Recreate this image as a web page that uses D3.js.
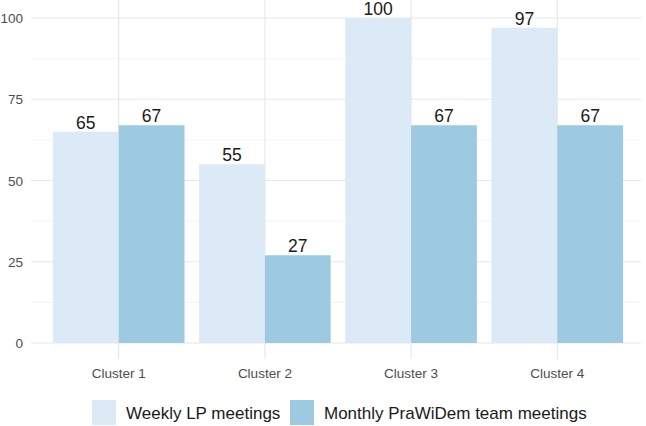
<!DOCTYPE html>
<html><head><meta charset="utf-8">
<script src="https://cdn.jsdelivr.net/npm/d3@7"></script>
<style>body{margin:0;background:#fff}svg{display:block}</style>
</head><body>
<script>
const categories = ["Cluster 1","Cluster 2","Cluster 3","Cluster 4"];
const seriesNames = ["Weekly LP meetings","Monthly PraWiDem team meetings"];
const weekly = [65,55,100,97];
const monthly = [67,27,67,67];
const yTicks = [0,25,50,75,100];
const colors = ["#dce9f6","#9ecae1"];

(function(){
const W=646,H=426;
const svg=d3.select("body").append("svg").attr("width",W).attr("height",H);
const pLeft=31,pRight=645,pTop=18,pBottom=343;
const x=d3.scalePoint().domain(categories).range([0,categories.length-1]);
const step=(pRight-pLeft)/(categories.length-1+1.2);
const cx=c=>pLeft+step*(0.6+x(c));
const y=d3.scaleLinear().domain([0,100]).range([pBottom,pTop]);
const font="Liberation Sans, Arial, sans-serif";

const g=svg.append("g");
const minor=[12.5,37.5,62.5,87.5];
g.selectAll(".mn").data(minor).enter().append("line")
 .attr("x1",pLeft).attr("x2",641).attr("y1",d=>y(d)).attr("y2",d=>y(d))
 .attr("stroke","#f0f0f0").attr("stroke-width",0.8);
g.selectAll(".mj").data(yTicks).enter().append("line")
 .attr("x1",pLeft).attr("x2",641).attr("y1",d=>y(d)).attr("y2",d=>y(d))
 .attr("stroke","#e8e8e8").attr("stroke-width",1.2);
g.selectAll(".vx").data(categories).enter().append("line")
 .attr("x1",d=>cx(d)).attr("x2",d=>cx(d)).attr("y1",0).attr("y2",359)
 .attr("stroke","#e8e8e8").attr("stroke-width",1.2);

const bw=step*0.45;
const data=[];
categories.forEach((c,i)=>{
  data.push({c,s:0,v:weekly[i]});
  data.push({c,s:1,v:monthly[i]});
});
svg.selectAll("rect.bar").data(data).enter().append("rect")
 .attr("x",d=>cx(d.c)+(d.s===0?-bw:0)).attr("width",bw)
 .attr("y",d=>y(d.v)).attr("height",d=>y(0)-y(d.v))
 .attr("fill",d=>colors[d.s]);
svg.selectAll("text.val").data(data).enter().append("text")
 .attr("x",d=>cx(d.c)+(d.s===0?-bw/2:bw/2)).attr("y",d=>y(d.v)-3)
 .attr("text-anchor","middle").attr("font-family",font).attr("font-size",17.5)
 .attr("fill","#1a1a1a").text(d=>d.v);

svg.selectAll("text.yt").data(yTicks).enter().append("text")
 .attr("x",23).attr("y",d=>y(d)+5).attr("text-anchor","end")
 .attr("font-family",font).attr("font-size",13.5).attr("fill","#4d4d4d").text(d=>d);
svg.selectAll("text.xt").data(categories).enter().append("text")
 .attr("x",d=>cx(d)).attr("y",378).attr("text-anchor","middle")
 .attr("font-family",font).attr("font-size",13.5).attr("fill","#4d4d4d").text(d=>d);

const lg=svg.append("g");
const lx=[92,290];
seriesNames.forEach((n,i)=>{
  lg.append("rect").attr("x",lx[i]).attr("y",400).attr("width",24).attr("height",25).attr("fill",colors[i]);
  lg.append("text").attr("x",lx[i]+34).attr("y",419).attr("font-family",font)
   .attr("font-size",17).attr("fill","#1a1a1a").text(n);
});
})();
</script>
</body></html>
